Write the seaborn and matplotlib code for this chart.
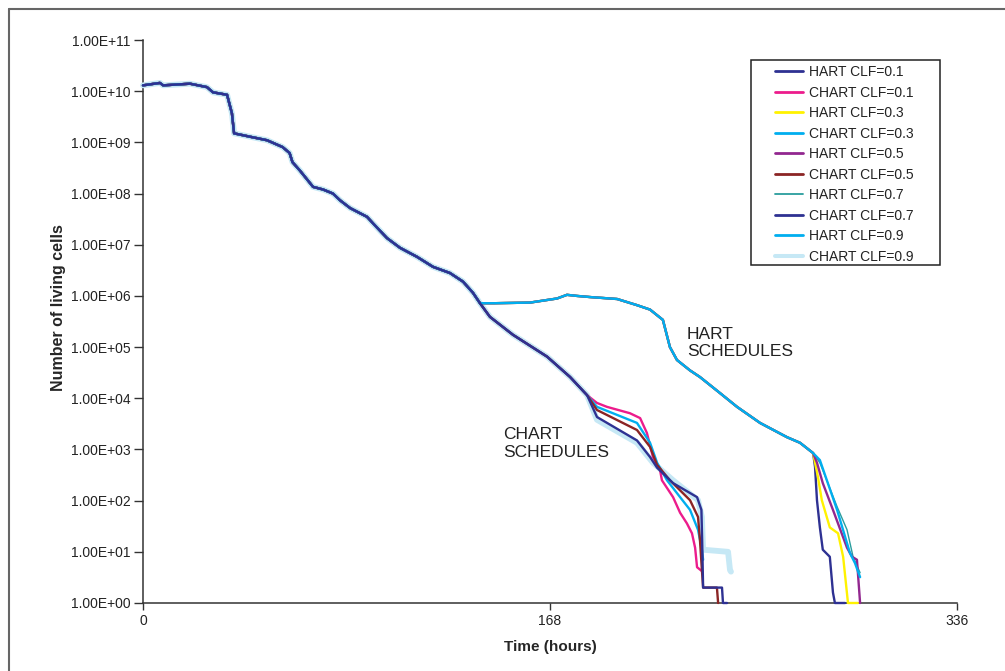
import numpy as np
import pandas as pd
import matplotlib
matplotlib.use("Agg")
import matplotlib.pyplot as plt
from matplotlib.lines import Line2D
from matplotlib.patches import Rectangle
from matplotlib.ticker import FixedLocator, FuncFormatter
import seaborn as sns

# ---------------- data ----------------
SERIES = ["HART CLF=0.1", "CHART CLF=0.1", "HART CLF=0.3", "CHART CLF=0.3",
          "HART CLF=0.5", "CHART CLF=0.5", "HART CLF=0.7", "CHART CLF=0.7",
          "HART CLF=0.9", "CHART CLF=0.9"]

# common trunk shared by every schedule (time in hours, living cells)
TRUNK_T = [0, 7.0, 8.3, 19.4, 26.4, 28.9, 34.7, 36.7, 37.6, 43.8, 51.2, 57.6,
           60.5, 61.7, 64.8, 70.2, 74.3, 78.4, 81.3, 85.5, 92.5, 95.0, 100.7,
           106.1, 113.1, 119.7, 126.7, 132.1, 136.2, 139.1]
TRUNK_N = [1.3e10, 1.45e10, 1.3e10, 1.4e10, 1.2e10, 9.5e9, 8.5e9, 3.7e9, 1.5e9,
           1.3e9, 1.1e9, 8.1e8, 6.2e8, 4.1e8, 2.8e8, 1.35e8, 1.2e8, 1.0e8,
           7.4e7, 5.2e7, 3.5e7, 2.6e7, 1.35e7, 8.7e6, 5.8e6, 3.7e6, 2.8e6,
           1.9e6, 1.15e6, 7.2e5]

# HART schedules: plateau and decline shared by all HART runs
HART_MID_T = [145.0, 159.7, 170.9, 175.0, 179.1, 184.5, 195.7, 203.9, 209.3,
              214.6, 217.5, 220.4, 225.8, 229.9, 238.2, 245.2, 254.7, 265.8,
              271.2, 276.6]
HART_MID_N = [7.2e5, 7.4e5, 8.9e5, 1.05e6, 1.0e6, 9.5e5, 8.7e5, 6.6e5, 5.4e5,
              3.4e5, 1.0e5, 5.6e4, 3.5e4, 2.6e4, 1.26e4, 6.8e3, 3.3e3, 1.74e3,
              1.35e3, 850]

# CHART schedules: section shared by all CHART runs
CHART_MID_T = [143.2, 152.7, 166.8, 176.3, 183.3]
CHART_MID_N = [3.9e5, 1.74e5, 6.5e4, 2.6e4, 1.15e4]

# individual tails
TAIL_T = {
    "HART CLF=0.1": [277.4, 278.2, 279.4, 280.6, 283.5, 284.8, 285.6, 289.8],
    "HART CLF=0.3": [278.6, 280.2, 283.5, 286.9, 289.0, 291.0, 295.1],
    "HART CLF=0.5": [278.2, 280.6, 284.8, 290.6, 292.7, 294.7, 296.0],
    "HART CLF=0.7": [279.4, 286.5, 290.6, 293.1, 296.0],
    "HART CLF=0.9": [279.4, 286.5, 291.8, 293.9, 296.0],
    "CHART CLF=0.1": [187.4, 191.5, 201.0, 205.2, 208.0, 210.5, 213.4, 214.2,
                      218.8, 221.7, 224.5, 226.6, 227.9, 228.7, 230.7],
    "CHART CLF=0.3": [187.4, 203.9, 209.3, 212.2, 216.3, 221.7, 225.8, 229.1,
                      230.7, 231.2],
    "CHART CLF=0.5": [187.4, 203.9, 209.3, 212.2, 217.5, 225.8, 229.1, 229.9,
                      230.7, 231.2, 236.9, 237.4],
    "CHART CLF=0.7": [187.4, 203.9, 209.3, 212.2, 218.8, 228.7, 230.5, 230.8,
                      231.2, 239.0, 239.4, 241.1],
    "CHART CLF=0.9": [187.4, 203.9, 210.5, 218.8, 229.1, 230.7, 231.2, 241.5,
                      242.3, 242.7],
}
TAIL_N = {
    "HART CLF=0.1": [457, 102, 30, 11, 8, 1.6, 1, 1],
    "HART CLF=0.3": [290, 102, 30, 23, 8, 1, 1],
    "HART CLF=0.5": [550, 220, 66, 12, 8, 7, 1],
    "HART CLF=0.7": [550, 76, 27, 8, 3.9],
    "HART CLF=0.9": [620, 66, 9.5, 6, 3.2],
    "CHART CLF=0.1": [8100, 6800, 5100, 4100, 2100, 710, 400, 250, 117, 58, 36,
                      23, 12, 5, 4.2],
    "CHART CLF=0.3": [6800, 3300, 1350, 550, 250, 117, 66, 27, 11, 7],
    "CHART CLF=0.5": [5900, 2400, 1120, 500, 250, 102, 48, 17, 4.4, 2, 2, 1],
    "CHART CLF=0.7": [4300, 1500, 710, 440, 220, 117, 66, 17, 2, 2, 1, 1],
    "CHART CLF=0.9": [3800, 1350, 550, 250, 102, 48, 11, 10, 4.4, 4.1],
}

X_TICKS = [0, 168, 336]
Y_TICKS = [1e0, 1e1, 1e2, 1e3, 1e4, 1e5, 1e6, 1e7, 1e8, 1e9, 1e10, 1e11]

# ---------------- styles ----------------
COLORS = {
    "HART CLF=0.1": "#2E3192", "CHART CLF=0.1": "#EC1C8C",
    "HART CLF=0.3": "#FFF200", "CHART CLF=0.3": "#00AEEF",
    "HART CLF=0.5": "#92278F", "CHART CLF=0.5": "#8B2525",
    "HART CLF=0.7": "#2A9D9D", "CHART CLF=0.7": "#2E3192",
    "HART CLF=0.9": "#00AEEF", "CHART CLF=0.9": "#C6E8F5",
}
WIDTHS = {s: 1.7 for s in SERIES}
WIDTHS["HART CLF=0.7"] = 1.0
WIDTHS["CHART CLF=0.9"] = 4.2
LEG_WIDTHS = dict(WIDTHS)
LEG_WIDTHS["CHART CLF=0.9"] = 2.6
ZORDER = {s: 4 + i for i, s in enumerate(SERIES)}
ZORDER["CHART CLF=0.9"] = 2
ZORDER["HART CLF=0.7"] = 3
ZORDER["CHART CLF=0.7"] = 20

# ---------------- build long table ----------------
rows = []
for s in SERIES:
    if s.startswith("HART"):
        t = TRUNK_T + HART_MID_T + TAIL_T[s]
        n = TRUNK_N + HART_MID_N + TAIL_N[s]
    else:
        t = TRUNK_T + CHART_MID_T + TAIL_T[s]
        n = TRUNK_N + CHART_MID_N + TAIL_N[s]
    for i, (a, b) in enumerate(zip(t, n)):
        rows.append({"series": s, "order": i, "time": a, "cells": b})
df = pd.DataFrame(rows)

# ---------------- plot ----------------
sns.set_theme(style="ticks")
plt.rcParams["font.family"] = ["Liberation Sans", "DejaVu Sans"]
plt.rcParams["text.color"] = "#222222"

fig = plt.figure(figsize=(10.05, 6.71), dpi=100)
ax = fig.add_axes([143 / 1005, 1 - 603 / 671, 814 / 1005, 563 / 671])

for s in SERIES:
    sub = df[df["series"] == s]
    sns.lineplot(data=sub, x="time", y="cells", ax=ax, color=COLORS[s],
                 linewidth=WIDTHS[s], sort=False, estimator=None,
                 zorder=ZORDER[s], clip_on=False, legend=False)

ax.set_yscale("log")
ax.set_xlim(0, 336)
ax.set_ylim(1, 1e11)
ax.xaxis.set_major_locator(FixedLocator(X_TICKS))
ax.yaxis.set_major_locator(FixedLocator(Y_TICKS))
ax.yaxis.set_minor_locator(FixedLocator([]))
ax.yaxis.set_major_formatter(FuncFormatter(lambda v, p: "%.2E" % v))
ax.xaxis.set_major_formatter(FuncFormatter(lambda v, p: "%d" % v))

for side in ("top", "right"):
    ax.spines[side].set_visible(False)
for side in ("left", "bottom"):
    ax.spines[side].set_color("#333333")
    ax.spines[side].set_linewidth(1.1)
    ax.spines[side].set_zorder(1)
ax.tick_params(axis="both", direction="out", width=1.0,
               color="#333333", labelsize=10, labelcolor="#222222")
ax.tick_params(axis="y", length=6.5, pad=2.5)
ax.tick_params(axis="x", length=5, pad=3)

ax.set_xlabel("Time (hours)", fontsize=11, fontweight="bold")
ax.set_ylabel("Number of living cells", fontsize=11.5, fontweight="bold")
ax.xaxis.set_label_coords(0.5, -0.066)
ax.yaxis.set_label_coords(-0.094, 0.524)

ax.text(224.5, 10 ** 5.40, "HART\nSCHEDULES", fontsize=12.5, va="top",
        ha="left", linespacing=1.2, color="#222222")
ax.text(148.6, 10 ** 3.43, "CHART\nSCHEDULES", fontsize=12.5, va="top",
        ha="left", linespacing=1.2, color="#222222")

# legend: entries placed without frame, frame drawn as its own box
handles = [Line2D([0], [0], color=COLORS[s], linewidth=LEG_WIDTHS[s] + 0.3)
           for s in SERIES]
leg = ax.legend(handles, SERIES, loc="upper left",
                bbox_to_anchor=((775 - 143) / 814, (603 - 65) / 563),
                fontsize=10, frameon=False, handlelength=2.0,
                handletextpad=0.45, labelspacing=0.47, borderpad=0,
                borderaxespad=0)
for txt in leg.get_texts():
    txt.set_color("#222222")
ax.add_patch(Rectangle(((751 - 143) / 814, (603 - 265) / 563),
                       (940 - 751) / 814, (265 - 60) / 563,
                       transform=ax.transAxes, fill=False,
                       edgecolor="#222222", linewidth=1.1, zorder=30,
                       clip_on=False))

# outer frame (top and left edges visible in the reference)
fig.add_artist(Line2D([8.5 / 1005, 1.0], [1 - 9 / 671, 1 - 9 / 671],
                      color="#666666", linewidth=1.5, transform=fig.transFigure))
fig.add_artist(Line2D([8.5 / 1005, 8.5 / 1005], [0.0, 1 - 9 / 671],
                      color="#666666", linewidth=1.5, transform=fig.transFigure))

fig.savefig("out.png", dpi=100)
